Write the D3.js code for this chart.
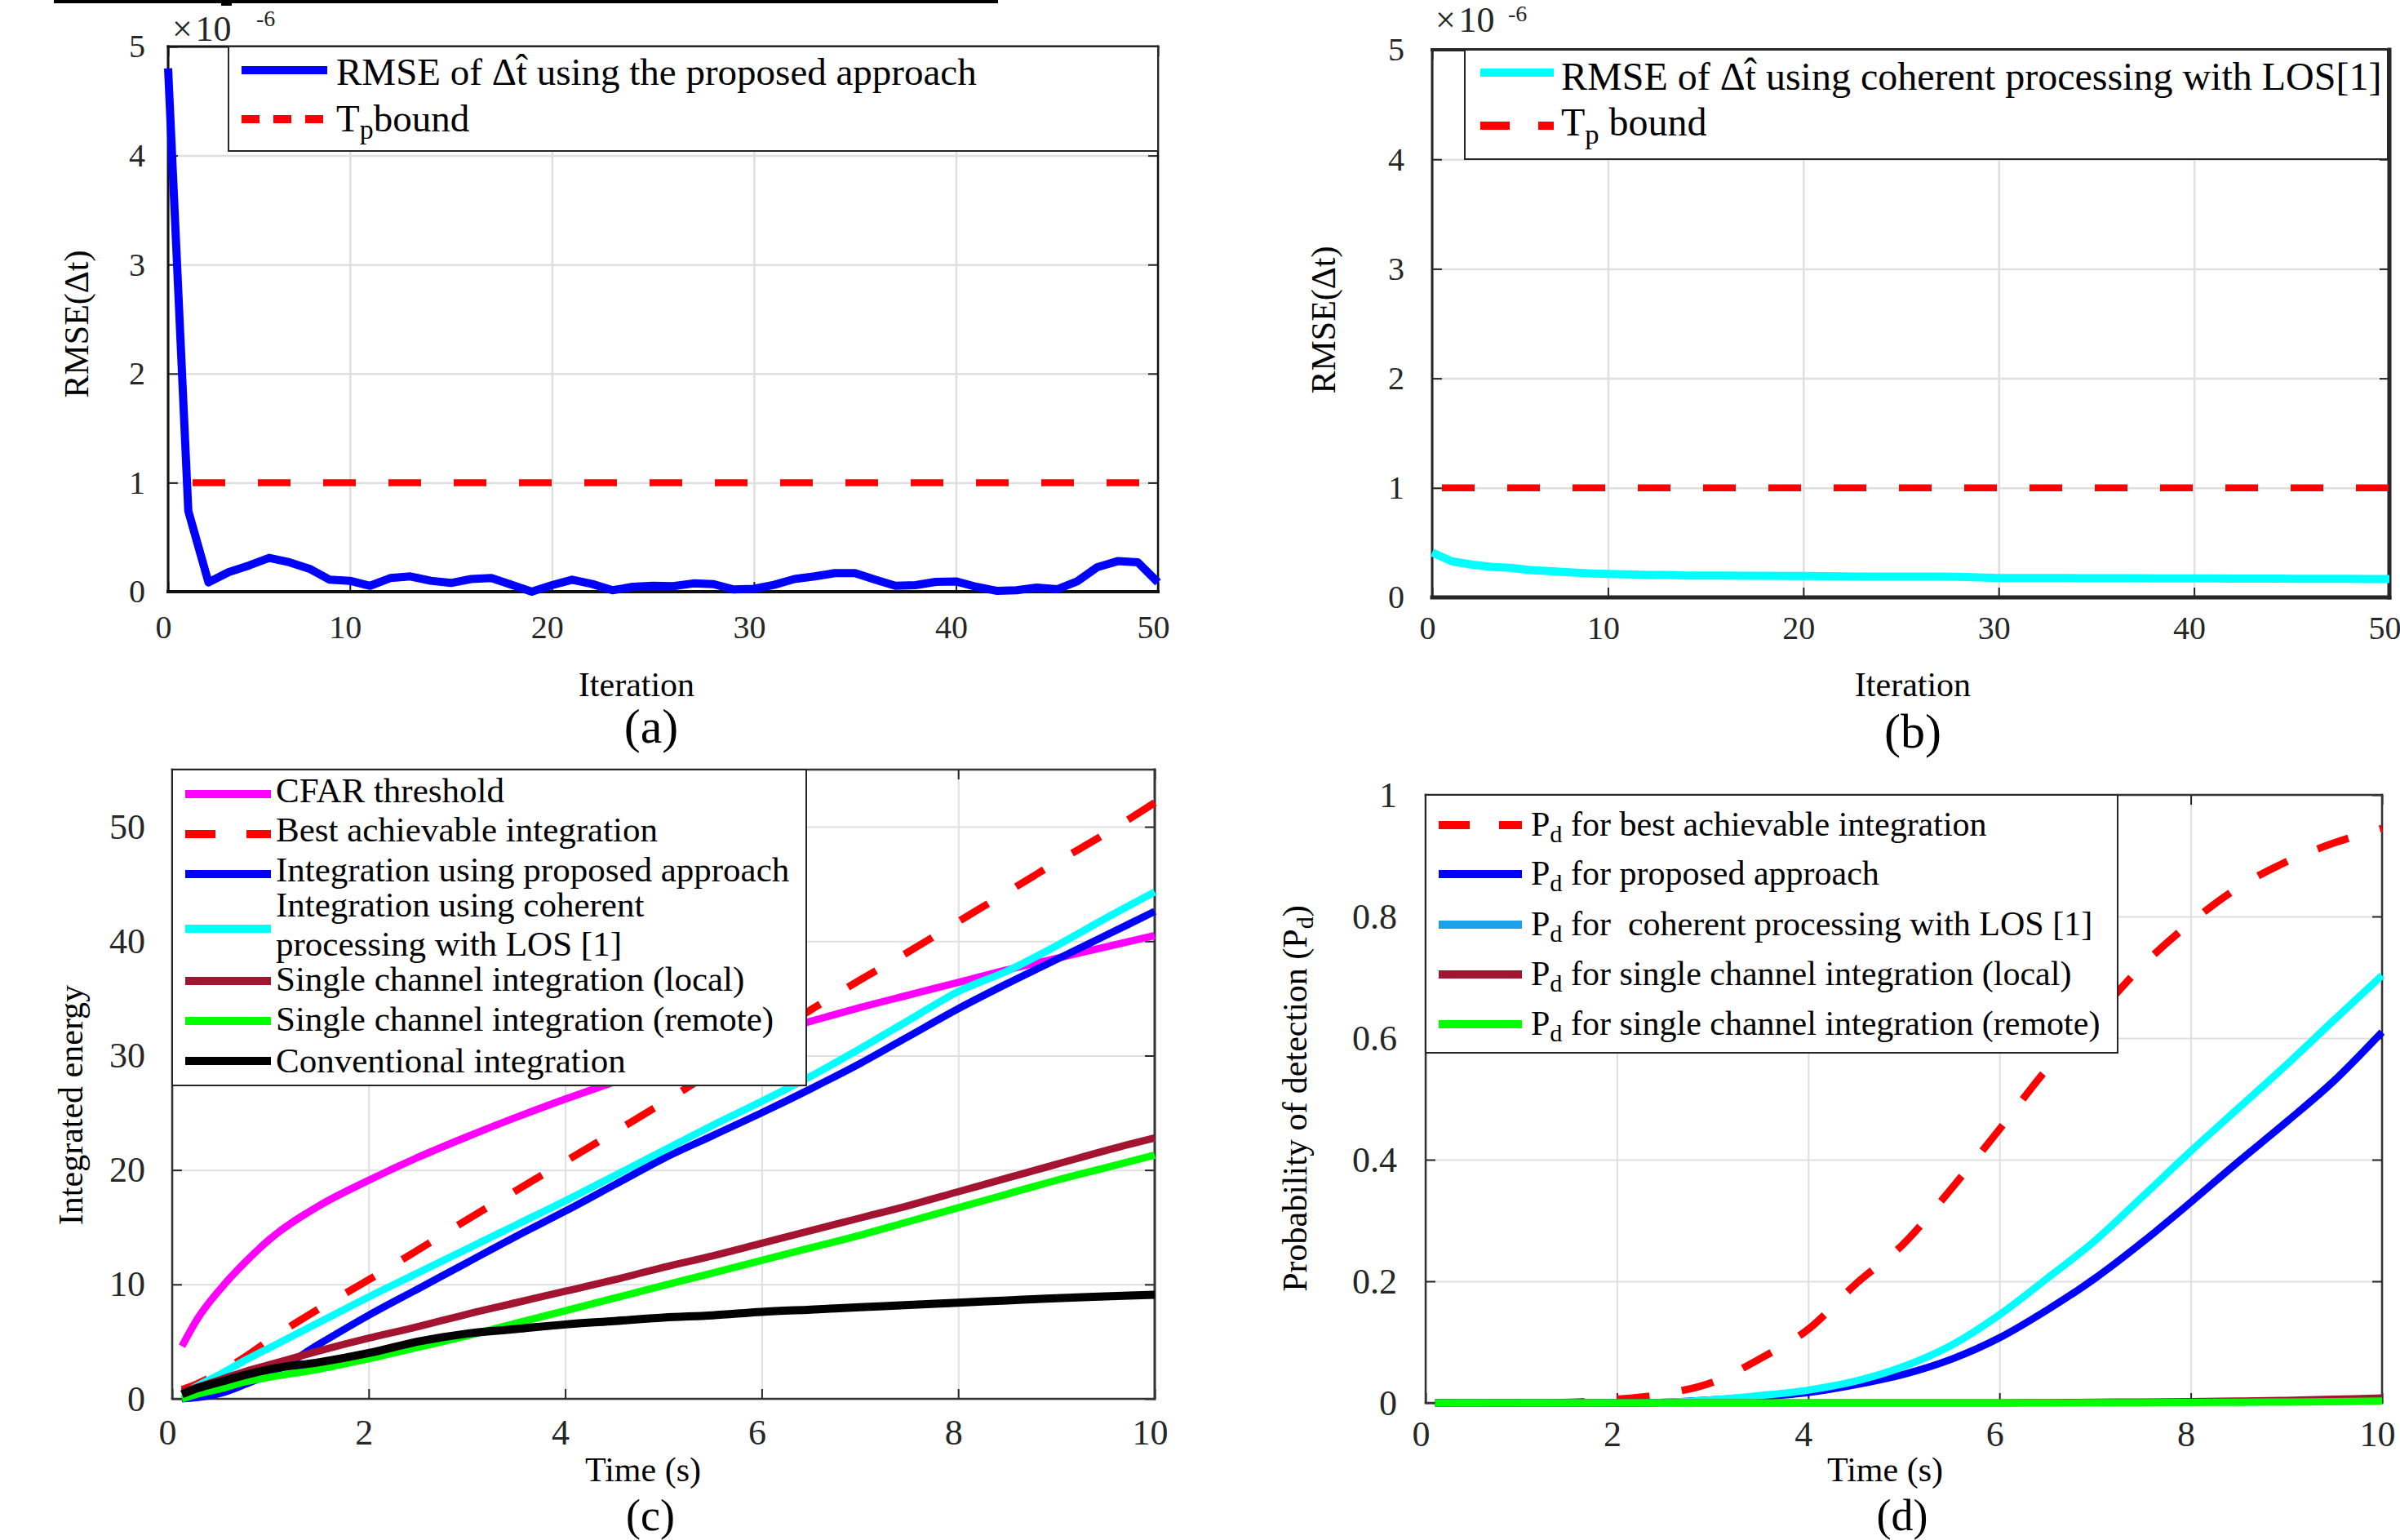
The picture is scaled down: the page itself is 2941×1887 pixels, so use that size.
<!DOCTYPE html>
<html>
<head>
<meta charset="utf-8">
<script src="https://cdn.jsdelivr.net/npm/d3@7"></script>
<style>
  html, body { margin: 0; padding: 0; background: #fff; }
  svg text { font-family: "Liberation Serif", "Times New Roman", serif; white-space: pre; }
</style>
</head>
<body>
<svg id="fig" width="2941" height="1887"></svg>
<script>
// ---- (a), (b): RMSE versus iteration ----
const iterations = [1, 2, 3, 4, 5, 6, 7, 8, 9, 10, 11, 12, 13, 14, 15, 16, 17, 18, 19, 20,
  21, 22, 23, 24, 25, 26, 27, 28, 29, 30, 31, 32, 33, 34, 35, 36, 37, 38, 39, 40,
  41, 42, 43, 44, 45, 46, 47, 48, 49, 50];
const rmseProposed = [4.80, 0.74, 0.085, 0.18, 0.24, 0.31, 0.27, 0.21, 0.11, 0.10,
  0.054, 0.125, 0.14, 0.10, 0.08, 0.116, 0.125, 0.063, 0.0, 0.06,
  0.11, 0.07, 0.013, 0.045, 0.054, 0.05, 0.076, 0.069, 0.02, 0.026,
  0.063, 0.116, 0.14, 0.17, 0.17, 0.11, 0.054, 0.06, 0.09, 0.094,
  0.045, 0.008, 0.013, 0.038, 0.022, 0.094, 0.225, 0.28, 0.27, 0.085];
const rmseCoherent = [0.41, 0.33, 0.30, 0.28, 0.27, 0.25, 0.24, 0.23, 0.22, 0.215,
  0.21, 0.205, 0.205, 0.20, 0.20, 0.20, 0.198, 0.197, 0.196, 0.196,
  0.194, 0.192, 0.19, 0.19, 0.19, 0.19, 0.19, 0.188, 0.182, 0.177,
  0.177, 0.177, 0.177, 0.176, 0.176, 0.175, 0.175, 0.174, 0.174, 0.173,
  0.173, 0.172, 0.172, 0.171, 0.17, 0.17, 0.169, 0.169, 0.168, 0.168];
const boundIter = [1, 50];
const tpBound = [1, 1];
const iterTicks = [1, 10, 20, 30, 40, 50];
const iterTickLabels = ["0", "10", "20", "30", "40", "50"];
const rmseTicks = [0, 1, 2, 3, 4, 5];
const rmseTickLabels = ["0", "1", "2", "3", "4", "5"];

// ---- (c): integrated energy versus time ----
const timeC = [0.1, 0.25, 0.5, 0.75, 1, 1.5, 2, 2.5, 3, 3.5, 4, 4.5, 5, 5.5, 6, 6.5, 7, 7.5, 8, 8.5, 9, 9.5, 10];
const cfarThreshold = [4.6, 6.9, 9.7, 12.0, 14.0, 16.9, 19.1, 21.1, 22.9, 24.6, 26.2, 27.7, 29.2, 30.5, 31.8, 33.0, 34.2, 35.3, 36.4, 37.5, 38.5, 39.5, 40.5];
const bestIntegration = [0.8, 1.3, 2.4, 3.7, 5.2, 7.9, 10.4, 13.0, 15.65, 18.2, 20.75, 23.3, 25.9, 28.6, 31.3, 34.0, 36.6, 39.1, 41.7, 44.3, 46.9, 49.4, 52.1];
const proposedIntegration = [0.0, 0.1, 0.5, 1.3, 2.2, 4.8, 7.3, 9.6, 11.9, 14.2, 16.4, 18.7, 21.0, 23.0, 25.0, 27.1, 29.3, 31.7, 34.1, 36.3, 38.4, 40.5, 42.6];
const coherentIntegration = [0.4, 1.1, 2.2, 3.4, 4.5, 6.7, 8.9, 11.0, 13.1, 15.2, 17.3, 19.5, 21.7, 23.9, 26.0, 28.2, 30.6, 33.1, 35.6, 37.4, 39.6, 42.0, 44.3];
const localIntegration = [0.6, 1.0, 1.7, 2.4, 3.0, 4.2, 5.3, 6.3, 7.4, 8.4, 9.4, 10.4, 11.5, 12.5, 13.6, 14.7, 15.8, 16.9, 18.1, 19.3, 20.5, 21.7, 22.8];
const remoteIntegration = [0.0, 0.4, 0.9, 1.5, 1.9, 2.6, 3.5, 4.5, 5.5, 6.6, 7.7, 8.8, 9.9, 11.0, 12.1, 13.2, 14.3, 15.5, 16.7, 17.9, 19.1, 20.2, 21.3];
const conventionalIntegration = [0.4, 0.9, 1.5, 2.1, 2.6, 3.2, 4.0, 5.0, 5.7, 6.1, 6.5, 6.8, 7.1, 7.3, 7.6, 7.8, 8.0, 8.2, 8.4, 8.6, 8.8, 8.95, 9.1];
const timeTicks = [0, 2, 4, 6, 8, 10];
const timeTickLabels = ["0", "2", "4", "6", "8", "10"];
const energyTicks = [0, 10, 20, 30, 40, 50];
const energyTickLabels = ["0", "10", "20", "30", "40", "50"];

// ---- (d): probability of detection versus time ----
const timeD = [0.1, 1, 1.5, 2, 2.5, 3, 3.5, 4, 4.5, 5, 5.5, 6, 6.5, 7, 7.5, 8, 8.5, 9, 9.5, 10];
const pdBest = [0, 0, 0.001, 0.006, 0.015, 0.034, 0.073, 0.121, 0.196, 0.262, 0.353, 0.45, 0.55, 0.635, 0.72, 0.79, 0.848, 0.89, 0.921, 0.945];
const pdProposed = [0, 0, 0, 0, 0.001, 0.005, 0.01, 0.017, 0.03, 0.047, 0.072, 0.107, 0.153, 0.205, 0.265, 0.33, 0.397, 0.462, 0.53, 0.61];
const pdCoherent = [0, 0, 0, 0, 0.001, 0.005, 0.012, 0.021, 0.036, 0.06, 0.095, 0.145, 0.205, 0.267, 0.34, 0.414, 0.485, 0.556, 0.63, 0.703];
const pdLocal = [0, 0, 0, 0, 0, 0, 0, 0, 0, 0, 0, 0, 0.0005, 0.001, 0.0015, 0.002, 0.003, 0.004, 0.006, 0.008];
const pdRemote = [0, 0, 0, 0, 0, 0, 0, 0, 0, 0, 0, 0, 0, 0.0003, 0.0005, 0.0008, 0.001, 0.0015, 0.002, 0.003];
const pdTicks = [0, 0.2, 0.4, 0.6, 0.8, 1];
const pdTickLabels = ["0", "0.2", "0.4", "0.6", "0.8", "1"];

const BLUE = "#0000ff", CYAN = "#00ffff", RED = "#ff0000", MAGENTA = "#ff00ff",
      DARKRED = "#a2142f", GREEN = "#00ff00", BLACK = "#000000", SKY = "#1ba1ea";

const svg = d3.select("#fig");
svg.append("rect").attr("width", 2941).attr("height", 1887).attr("fill", "#fff");

// piece of the figure above, cut off at the top edge
svg.append("rect").attr("x", 66).attr("y", 0).attr("width", 1157).attr("height", 4).attr("fill", "#000");
svg.append("rect").attr("x", 271).attr("y", 0).attr("width", 13).attr("height", 7).attr("fill", "#000");

// text with optional subscripts: parts = [[string, isSub], ...]
function richText(g, x, y, parts, size, subRatio, subShift) {
  const t = g.append("text").attr("x", x).attr("y", y).attr("font-size", size).attr("fill", "#000");
  let shift = 0;
  parts.forEach(([str, sub]) => {
    const want = sub ? subShift : 0;
    t.append("tspan").attr("dy", want - shift).attr("font-size", sub ? size * subRatio : size).text(str);
    shift = want;
  });
  return t;
}

function drawPanel(p) {
  const g = svg.append("g");
  const x = d3.scaleLinear().domain(p.xDomain).range([p.left, p.right]);
  const y = d3.scaleLinear().domain(p.yDomain).range([p.bottom, p.top]);
  const w = p.right - p.left, h = p.bottom - p.top;

  // grid
  const gx = g.append("g").attr("transform", `translate(0,${p.bottom})`)
    .call(d3.axisBottom(x).tickValues(p.xTicks).tickSize(-h).tickFormat(""));
  const gy = g.append("g").attr("transform", `translate(${p.left},0)`)
    .call(d3.axisLeft(y).tickValues(p.yTicks).tickSize(-w).tickFormat(""));
  [gx, gy].forEach(s => {
    s.select(".domain").remove();
    s.selectAll("line").attr("stroke", "#dfdfdf").attr("stroke-width", p.gridW);
  });

  // inward ticks on all four sides
  [[d3.axisBottom(x).tickValues(p.xTicks), `translate(0,${p.bottom})`],
   [d3.axisTop(x).tickValues(p.xTicks), `translate(0,${p.top})`],
   [d3.axisLeft(y).tickValues(p.yTicks), `translate(${p.left},0)`],
   [d3.axisRight(y).tickValues(p.yTicks), `translate(${p.right},0)`]
  ].forEach(([ax, tr]) => {
    const s = g.append("g").attr("transform", tr).call(ax.tickSize(-12).tickFormat(""));
    s.select(".domain").remove();
    s.selectAll("line").attr("stroke", "#262626").attr("stroke-width", 2);
  });

  // frame
  [["left", p.left, p.top, p.left, p.bottom],
   ["bottom", p.left, p.bottom, p.right, p.bottom],
   ["right", p.right, p.top, p.right, p.bottom],
   ["top", p.left, p.top, p.right, p.top]
  ].forEach(([k, x1, y1, x2, y2]) => {
    g.append("line").attr("x1", x1).attr("y1", y1).attr("x2", x2).attr("y2", y2)
      .attr("stroke", p.frameColor).attr("stroke-width", p.frame[k]).attr("stroke-linecap", "square");
  });

  // tick labels
  const xl = g.append("g").attr("transform", `translate(0,${p.bottom})`)
    .call(d3.axisBottom(x).tickValues(p.xTicks).tickSize(0).tickFormat((d, i) => p.xLabels[i]));
  xl.select(".domain").remove();
  xl.attr("font-size", p.tickFont).attr("font-family", null);
  xl.selectAll("text").attr("y", p.xLabelY - p.bottom).attr("dy", null).attr("dx", -6).attr("fill", "#262626");

  const yl = g.append("g").attr("transform", `translate(${p.left},0)`)
    .call(d3.axisLeft(y).tickValues(p.yTicks).tickSize(0).tickPadding(p.yLabelGap)
      .tickFormat((d, i) => p.yLabels[i]));
  yl.select(".domain").remove();
  yl.attr("font-size", p.tickFont).attr("font-family", null);
  yl.selectAll("text").attr("fill", "#262626");

  // series
  p.series.forEach(s => {
    const line = d3.line().x(d => x(d[0])).y(d => y(d[1])).curve(p.curve);
    g.append("path").datum(d3.zip(s.x, s.y))
      .attr("d", line)
      .attr("fill", "none")
      .attr("stroke", s.color)
      .attr("stroke-width", s.width)
      .attr("stroke-linejoin", "round")
      .attr("stroke-dasharray", s.dash || null)
      .attr("stroke-dashoffset", s.offset || 0);
  });

  // legend
  const L = p.legend;
  const lg = g.append("g");
  lg.append("rect").attr("x", L.box[0]).attr("y", L.box[1])
    .attr("width", L.box[2] - L.box[0]).attr("height", L.box[3] - L.box[1])
    .attr("fill", "#fff").attr("stroke", "#262626").attr("stroke-width", 2);
  L.items.forEach(it => {
    lg.append("line").attr("x1", L.lineX[0]).attr("x2", L.lineX[1])
      .attr("y1", it.ly).attr("y2", it.ly)
      .attr("stroke", it.color).attr("stroke-width", 10)
      .attr("stroke-dasharray", it.dash || null);
    it.rows.forEach((parts, i) => {
      richText(lg, L.textX, it.ty[i], parts, L.font, 0.72, L.font * 0.2);
    });
  });

  // axis titles
  richText(g, p.xTitle.x, p.xTitle.y, [[p.xTitle.text, false]], 42, 0.72, 8).attr("text-anchor", "middle");
  richText(g, p.yTitle.x, p.yTitle.y, p.yTitle.parts, 42, 0.72, 8)
    .attr("text-anchor", "middle")
    .attr("transform", `rotate(-90,${p.yTitle.x},${p.yTitle.y})`);
  g.append("text").attr("x", p.tag.x).attr("y", p.tag.y).attr("font-size", p.tag.size || 60)
    .attr("text-anchor", "middle").attr("fill", "#000").text(p.tag.text);

  if (p.exponent) {
    const e = p.exponent;
    g.append("text").attr("x", e.x).attr("y", e.y).attr("font-size", 44)
      .attr("fill", "#262626").text("\u00d7\u200a10");
    g.append("text").attr("x", e.ex).attr("y", e.ey).attr("font-size", 28)
      .attr("fill", "#262626").text("-6");
  }
}

const sub = s => [s, true];
const txt = s => [s, false];

// (a)
drawPanel({
  left: 206, right: 1419, top: 57, bottom: 725,
  xDomain: [1, 50], yDomain: [0, 5],
  xTicks: iterTicks, xLabels: iterTickLabels, yTicks: rmseTicks, yLabels: rmseTickLabels,
  tickFont: 40, xLabelY: 782, yLabelGap: 28, gridW: 2.5,
  frame: { left: 3, bottom: 4, right: 2.5, top: 3 }, frameColor: "#111",
  curve: d3.curveLinear,
  series: [
    { x: boundIter, y: tpBound, color: RED, width: 8.5, dash: "40,40", offset: 50 },
    { x: iterations, y: rmseProposed, color: BLUE, width: 10 }
  ],
  legend: {
    box: [280, 57, 1419, 185], lineX: [296, 401], textX: 412, font: 47,
    items: [
      { color: BLUE, ly: 86, ty: [104], rows: [[txt("RMSE of \u0394t\u0302 using the proposed approach")]] },
      { color: RED, dash: "22,17", ly: 146, ty: [161], rows: [[txt("T"), sub("p"), txt("bound")]] }
    ]
  },
  xTitle: { text: "Iteration", x: 780, y: 853 },
  yTitle: { x: 108, y: 397, parts: [txt("RMSE(\u0394t)")] },
  tag: { text: "(a)", x: 798, y: 910 },
  exponent: { x: 211, y: 50, ex: 314, ey: 32 }
});

// (b)
drawPanel({
  left: 1755, right: 2928, top: 61, bottom: 732,
  xDomain: [1, 50], yDomain: [0, 5],
  xTicks: iterTicks, xLabels: iterTickLabels, yTicks: rmseTicks, yLabels: rmseTickLabels,
  tickFont: 40, xLabelY: 783, yLabelGap: 34, gridW: 2.5,
  frame: { left: 3, bottom: 5, right: 5, top: 4 }, frameColor: "#262626",
  curve: d3.curveLinear,
  series: [
    { x: boundIter, y: tpBound, color: RED, width: 8.5, dash: "40,40", offset: 68 },
    { x: iterations, y: rmseCoherent, color: CYAN, width: 10 }
  ],
  legend: {
    box: [1795, 61, 2926, 195], lineX: [1814, 1904], textX: 1913, font: 48,
    items: [
      { color: CYAN, ly: 89, ty: [110], rows: [[txt("RMSE of \u0394t\u0302 using coherent processing with LOS[1]")]] },
      { color: RED, dash: "36,35", ly: 154, ty: [166], rows: [[txt("T"), sub("p"), txt(" bound")]] }
    ]
  },
  xTitle: { text: "Iteration", x: 2344, y: 853 },
  yTitle: { x: 1636, y: 392, parts: [txt("RMSE(\u0394t)")] },
  tag: { text: "(b)", x: 2344, y: 916 },
  exponent: { x: 1759, y: 39, ex: 1848, ey: 26 }
});

// (c)
drawPanel({
  left: 211, right: 1415, top: 943, bottom: 1714,
  xDomain: [0, 10], yDomain: [0, 55],
  xTicks: timeTicks, xLabels: timeTickLabels, yTicks: energyTicks, yLabels: energyTickLabels,
  tickFont: 44, xLabelY: 1770, yLabelGap: 33, gridW: 2,
  frame: { left: 2.5, bottom: 2.5, right: 3, top: 2.5 }, frameColor: "#333",
  curve: d3.curveMonotoneX,
  series: [
    { x: timeC, y: cfarThreshold, color: MAGENTA, width: 9 },
    { x: timeC, y: bestIntegration, color: RED, width: 9, dash: "40,40", offset: 6 },
    { x: timeC, y: proposedIntegration, color: BLUE, width: 9 },
    { x: timeC, y: coherentIntegration, color: CYAN, width: 9 },
    { x: timeC, y: localIntegration, color: DARKRED, width: 9 },
    { x: timeC, y: remoteIntegration, color: GREEN, width: 9 },
    { x: timeC, y: conventionalIntegration, color: BLACK, width: 10 }
  ],
  legend: {
    box: [211, 943, 988, 1330], lineX: [227, 332], textX: 338, font: 43,
    items: [
      { color: MAGENTA, ly: 973, ty: [983], rows: [[txt("CFAR threshold")]] },
      { color: RED, dash: "37,38", ly: 1022, ty: [1031], rows: [[txt("Best achievable integration")]] },
      { color: BLUE, ly: 1071, ty: [1080], rows: [[txt("Integration using proposed approach")]] },
      { color: CYAN, ly: 1138, ty: [1123, 1171], rows: [[txt("Integration using coherent")], [txt("processing with LOS [1]")]] },
      { color: DARKRED, ly: 1202, ty: [1214], rows: [[txt("Single channel integration (local)")]] },
      { color: GREEN, ly: 1251, ty: [1263], rows: [[txt("Single channel integration (remote)")]] },
      { color: BLACK, ly: 1300, ty: [1314], rows: [[txt("Conventional integration")]] }
    ]
  },
  xTitle: { text: "Time (s)", x: 788, y: 1815 },
  yTitle: { x: 101, y: 1354, parts: [txt("Integrated energy")] },
  tag: { text: "(c)", x: 797, y: 1875, size: 54 }
});

// (d)
drawPanel({
  left: 1747, right: 2919, top: 974, bottom: 1719,
  xDomain: [0, 10], yDomain: [0, 1],
  xTicks: timeTicks, xLabels: timeTickLabels, yTicks: pdTicks, yLabels: pdTickLabels,
  tickFont: 44, xLabelY: 1772, yLabelGap: 35, gridW: 2,
  frame: { left: 2.5, bottom: 2.5, right: 2.5, top: 2.5 }, frameColor: "#333",
  curve: d3.curveMonotoneX,
  series: [
    { x: timeD, y: pdBest, color: RED, width: 9, dash: "40,40", offset: 17 },
    { x: timeD, y: pdProposed, color: BLUE, width: 9 },
    { x: timeD, y: pdCoherent, color: CYAN, width: 9 },
    { x: timeD, y: pdLocal, color: DARKRED, width: 9 },
    { x: timeD, y: pdRemote, color: GREEN, width: 9 }
  ],
  legend: {
    box: [1747, 974, 2595, 1290], lineX: [1763, 1865], textX: 1876, font: 42,
    items: [
      { color: RED, dash: "38,36", ly: 1011, ty: [1024], rows: [[txt("P"), sub("d"), txt(" for best achievable integration")]] },
      { color: BLUE, ly: 1071, ty: [1084], rows: [[txt("P"), sub("d"), txt(" for proposed approach")]] },
      { color: SKY, ly: 1133, ty: [1146], rows: [[txt("P"), sub("d"), txt(" for  coherent processing with LOS [1]")]] },
      { color: DARKRED, ly: 1194, ty: [1207], rows: [[txt("P"), sub("d"), txt(" for single channel integration (local)")]] },
      { color: GREEN, ly: 1255, ty: [1268], rows: [[txt("P"), sub("d"), txt(" for single channel integration (remote)")]] }
    ]
  },
  xTitle: { text: "Time (s)", x: 2310, y: 1815 },
  yTitle: { x: 1601, y: 1346, parts: [txt("Probability of detection (P"), sub("d"), txt(")")] },
  tag: { text: "(d)", x: 2331, y: 1875, size: 54 }
});
</script>
</body>
</html>
